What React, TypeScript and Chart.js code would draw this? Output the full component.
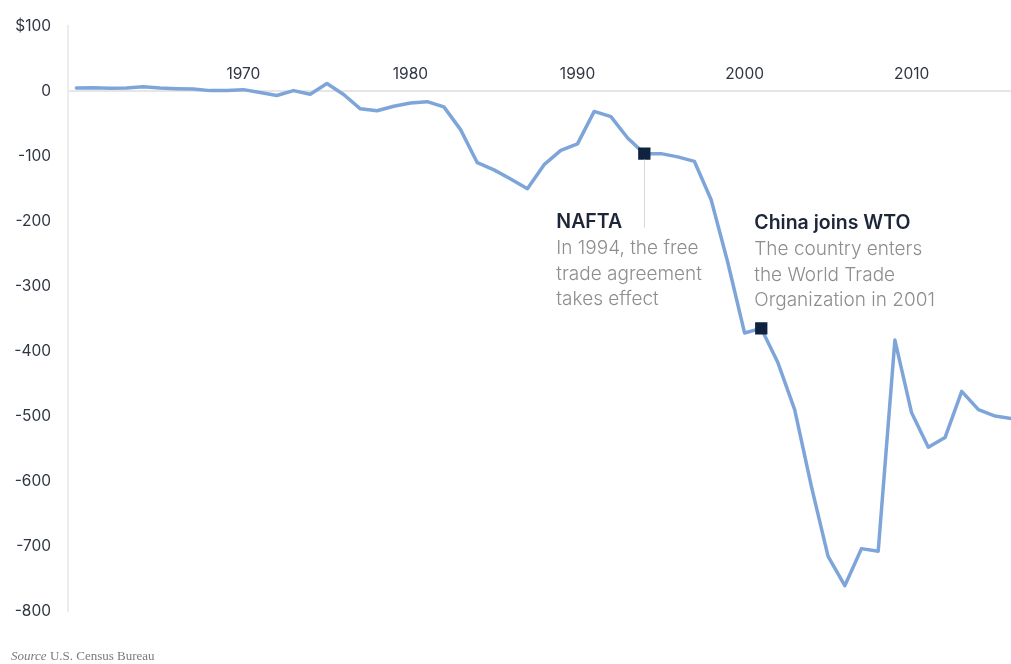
import React, { useEffect, useRef } from "react";
import { Chart, registerables } from "chart.js";

Chart.register(...registerables);

const years: number[] = [
  1960, 1961, 1962, 1963, 1964, 1965, 1966, 1967, 1968, 1969,
  1970, 1971, 1972, 1973, 1974, 1975, 1976, 1977, 1978, 1979,
  1980, 1981, 1982, 1983, 1984, 1985, 1986, 1987, 1988, 1989,
  1990, 1991, 1992, 1993, 1994, 1995, 1996, 1997, 1998, 1999,
  2000, 2001, 2002, 2003, 2004, 2005, 2006, 2007, 2008, 2009,
  2010, 2011, 2012, 2013, 2014, 2015, 2016,
];

const balance: number[] = [
  5, 5.5, 4.5, 5, 7, 5, 4, 3.5, 1, 1,
  2.5, -2, -6.5, 1, -4.5, 12, -5, -27, -30, -23,
  -18, -16, -24, -59, -110, -121, -135, -150, -113, -91,
  -81, -31, -39, -72, -96, -96, -101, -108, -167, -264,
  -372, -365, -418, -490, -608, -716, -761, -704, -708, -383,
  -495, -548, -533, -462, -490, -500, -504,
];

const xTickYears: number[] = [1970, 1980, 1990, 2000, 2010];
const yTicks: number[] = [100, 0, -100, -200, -300, -400, -500, -600, -700, -800];

const eventYears: number[] = [1994, 2001];
const eventTitles: string[] = ["NAFTA", "China joins WTO"];
const eventBodies: string[][] = [
  ["In 1994, the free", "trade agreement", "takes effect"],
  ["The country enters", "the World Trade", "Organization in 2001"],
];

const FONT = "Inter, 'Noto Sans', sans-serif";

const annotationPlugin = {
  id: "eventNotes",
  afterDatasetsDraw(chart: any) {
    const ctx = chart.ctx;
    const meta = chart.getDatasetMeta(1);
    const pts = meta.data;
    if (!pts || pts.length < 2) return;
    ctx.save();
    const p0 = pts[0];
    ctx.strokeStyle = "#d6d6d6";
    ctx.lineWidth = 1;
    ctx.beginPath();
    ctx.moveTo(Math.round(p0.x) + 0.5, p0.y + 6);
    ctx.lineTo(Math.round(p0.x) + 0.5, p0.y + 74);
    ctx.stroke();
    const offsets = [
      { dx: -88, dy: 69 },
      { dx: -7, dy: -105 },
    ];
    pts.forEach((p: any, i: number) => {
      const x = p.x + offsets[i].dx;
      const y = p.y + offsets[i].dy;
      ctx.textAlign = "left";
      ctx.textBaseline = "middle";
      ctx.fillStyle = "#1c2638";
      ctx.font = `600 19.5px ${FONT}`;
      ctx.fillText(eventTitles[i], x, y);
      ctx.fillStyle = "#8e8e8e";
      ctx.font = `300 19px ${FONT}`;
      eventBodies[i].forEach((line, j) => {
        ctx.fillText(line, x, y + 26 + j * 25.5);
      });
    });
    ctx.restore();
  },
};

export default function App() {
  const canvasRef = useRef<HTMLCanvasElement | null>(null);

  useEffect(() => {
    document.body.style.margin = "0";
    const canvas = canvasRef.current;
    if (!canvas) return;
    const lineData = years.map((y, i) => ({ x: y, y: balance[i] }));
    const eventData = eventYears.map((y) => ({ x: y, y: balance[years.indexOf(y)] }));
    const chart = new Chart(canvas, {
      type: "line",
      data: {
        datasets: [
          {
            data: lineData,
            borderColor: "#7ea5d9",
            borderWidth: 3.5,
            pointRadius: 0,
            tension: 0,
            borderJoinStyle: "round",
            borderCapStyle: "round",
            order: 2,
          },
          {
            data: eventData,
            showLine: false,
            pointStyle: "rect",
            pointRadius: 8.7,
            pointBackgroundColor: "#0f2240",
            pointBorderWidth: 0,
            order: 1,
          },
        ],
      },
      options: {
        animation: false,
        responsive: false,
        events: [],
        layout: { autoPadding: false, padding: { top: 26, bottom: 53, left: 0, right: 0 } },
        plugins: {
          legend: { display: false },
          tooltip: { enabled: false },
        },
        scales: {
          x: {
            type: "linear",
            position: { y: 0 } as any,
            min: 1959.5,
            max: 2015.95,
            grid: { display: false, drawTicks: false },
            border: { display: true, color: "#e6e6e6", width: 2 },
            afterBuildTicks: (scale: any) => {
              scale.ticks = xTickYears.map((v) => ({ value: v }));
            },
            afterFit: (scale: any) => {
              scale.paddingLeft = 0;
              scale.paddingRight = 0;
            },
            ticks: {
              padding: -26,
              color: "#2f3643",
              font: { family: FONT, size: 15.5 },
              maxRotation: 0,
              autoSkip: false,
              callback: (v: any) => String(v),
            },
          },
          y: {
            type: "linear",
            min: -800,
            max: 100,
            grid: { display: false, drawTicks: false },
            border: { display: true, color: "#ececec", width: 2 },
            afterFit: (scale: any) => {
              scale.width = 68;
            },
            afterBuildTicks: (scale: any) => {
              scale.ticks = yTicks.map((v) => ({ value: v }));
            },
            ticks: {
              padding: 17,
              color: "#2f3643",
              font: { family: FONT, size: 15.5 },
              callback: (v: any) => (v === 100 ? "$100" : String(v)),
            },
          },
        },
      },
      plugins: [annotationPlugin],
    });
    return () => chart.destroy();
  }, []);

  return (
    <div style={{ position: "absolute", left: 0, top: 0, width: 1011, height: 664, background: "#fff", overflow: "hidden" }}>
      <canvas ref={canvasRef} width={1011} height={664} style={{ display: "block" }} />
      <div
        style={{
          position: "absolute",
          left: 11,
          top: 648,
          fontFamily: "'Liberation Serif', 'DejaVu Serif', serif",
          fontSize: 13,
          color: "#7a7a7a",
          whiteSpace: "nowrap",
        }}
      >
        <i>Source</i> U.S. Census Bureau
      </div>
    </div>
  );
}
